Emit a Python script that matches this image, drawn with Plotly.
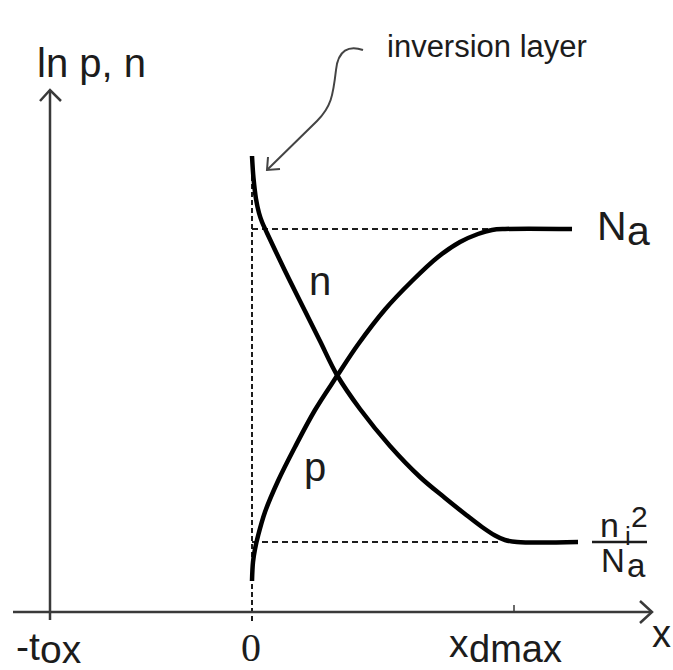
import plotly.graph_objects as go

# Carrier profiles across the MOS depletion region (x in units of x_dmax, y = ln of concentration, arbitrary units)
x_n = [0.0, 0.0057, 0.0153, 0.0267, 0.0382, 0.0573, 0.0878, 0.145, 0.2023, 0.2595, 0.3244,
       0.4122, 0.5267, 0.6412, 0.7366, 0.8130, 0.8779, 0.9275, 0.9656, 1.0115, 1.2443]
ln_n = [4.56, 4.34, 4.13, 3.99, 3.90, 3.79, 3.62, 3.31, 3.01, 2.71, 2.37,
        2.03, 1.66, 1.35, 1.14, 0.98, 0.85, 0.765, 0.72, 0.70, 0.70]

x_p = [0.0, 0.0038, 0.0115, 0.0229, 0.0496, 0.0992, 0.1641, 0.2405, 0.3244, 0.4046,
       0.5076, 0.6107, 0.7099, 0.7939, 0.8626, 0.9160, 0.9656, 1.2214]
ln_p = [0.31, 0.50, 0.63, 0.76, 1.00, 1.31, 1.65, 2.02, 2.36, 2.675,
        3.025, 3.31, 3.55, 3.70, 3.78, 3.82, 3.83, 3.83]

ln_Na = 3.83          # bulk hole level
ln_ni2_Na = 0.70      # bulk electron level
x_flat = 0.947        # where the profiles reach their bulk values
x_tox = -0.771        # oxide edge (-t_ox)
x_dmax = 1.0

W, H = 673, 670
# pixel <-> data mapping of the drawing area
PX0, PXS = 252, 262   # x = 0 pixel, pixels per unit x
PY0, PYS = 612, 100   # y = 0 pixel, pixels per unit y


def px(p):
    return p / W


def py(p):
    return 1 - p / H


INK = "#1c1c1c"
AXIS = "#3a3a3a"

fig = go.Figure()

# dashed guide lines
fig.add_trace(go.Scatter(x=[0, 0], y=[(PY0 - 160) / PYS, (PY0 - 622) / PYS], mode="lines",
                         line=dict(color=INK, width=2, dash="5px,3px"), hoverinfo="skip"))
fig.add_trace(go.Scatter(x=[0, x_flat], y=[ln_Na, ln_Na], mode="lines",
                         line=dict(color=INK, width=2, dash="6px,4px"), hoverinfo="skip"))
fig.add_trace(go.Scatter(x=[0, x_flat], y=[ln_ni2_Na, ln_ni2_Na], mode="lines",
                         line=dict(color=INK, width=2, dash="6px,4px"), hoverinfo="skip"))

# carrier profiles
fig.add_trace(go.Scatter(x=x_n, y=ln_n, mode="lines",
                         line=dict(color="black", width=4.5, shape="spline", smoothing=1.0)))
fig.add_trace(go.Scatter(x=x_p, y=ln_p, mode="lines",
                         line=dict(color="black", width=4.5, shape="spline", smoothing=1.0)))

shapes = []


def seg(x0, y0, x1, y1, color=AXIS, width=2.5):
    shapes.append(dict(type="line", xref="paper", yref="paper",
                       x0=px(x0), y0=py(y0), x1=px(x1), y1=py(y1),
                       line=dict(color=color, width=width)))


def path(pts, color=AXIS, width=2.5):
    d = "M " + " L ".join(f"{px(a)},{py(b)}" for a, b in pts)
    shapes.append(dict(type="path", xref="paper", yref="paper", path=d,
                       line=dict(color=color, width=width)))


# axes with open arrowheads
seg(13, 612, 652, 612)
seg(50, 90, 50, 620)
path([(40, 101), (50, 90), (61, 101)])
path([(640, 601), (652, 612), (640, 623)])
# x_dmax tick
xd_px = PX0 + x_dmax * PXS
seg(xd_px, 605, xd_px, 612, width=1.5)

# curved pointer to the inversion layer
curve = ("M {a},{b} C {c},{d} {e},{f} {g},{h} C {i},{j} {k},{l} {m},{n} L {o},{p}").format(
    a=px(363), b=py(50), c=px(349), d=py(45), e=px(338), f=py(50), g=px(336), h=py(70),
    i=px(333), j=py(96), k=px(331), l=py(107), m=px(317), n=py(121), o=px(267), p=py(170))
shapes.append(dict(type="path", xref="paper", yref="paper", path=curve,
                   line=dict(color="#444", width=2)))
path([(280, 169), (267, 170), (268, 157)], color="#444", width=2)

# fraction bar of n_i^2 / N_a
seg(592, 542, 647, 542, color=INK, width=2.5)

annotations = []


def label(text, left, baseline, size, family="Liberation Sans", anchor="left", k=0.3465):
    annotations.append(dict(text=text, xref="paper", yref="paper",
                            x=px(left), y=py(baseline - k * size),
                            xanchor=anchor, yanchor="middle", showarrow=False, borderpad=0,
                            font=dict(family=family, size=size, color=INK)))


label("ln p, n", 36, 77, 40)
label("inversion layer", 386, 57, 31)
label("n", 320, 295, 40, anchor="center")
label("p", 315, 481, 40, anchor="center")
label("N", 596, 240, 41)
label("a", 626, 245, 41)
label("x", 661, 647, 38, anchor="center")
label("-t", 15, 660, 39)
label("ox", 39, 663, 39)
label("0", 251, 661, 40, family="Liberation Serif", anchor="center", k=0.3375)
label("x", 448, 657, 39)
label("dmax", 468, 662, 38)
label("n", 599, 537, 34)
label("i", 624, 545, 26)
label("2", 630, 527, 30)
label("N", 600, 572, 33)
label("a", 626, 577, 33)

fig.update_layout(
    width=W, height=H,
    margin=dict(l=0, r=0, t=0, b=0, pad=0),
    paper_bgcolor="white", plot_bgcolor="white",
    showlegend=False,
    xaxis=dict(range=[(0 - PX0) / PXS, (W - PX0) / PXS], visible=False, fixedrange=True),
    yaxis=dict(range=[(PY0 - H) / PYS, PY0 / PYS], visible=False, fixedrange=True),
    shapes=shapes,
    annotations=annotations,
)

fig.write_html("out.html")
